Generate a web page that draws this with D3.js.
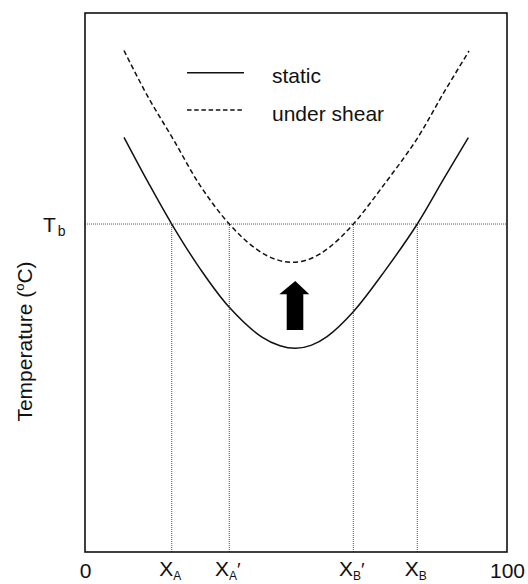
<!DOCTYPE html>
<html>
<head>
<meta charset="utf-8">
<script src="https://cdn.jsdelivr.net/npm/d3@7"></script>
<style>
  html, body { margin: 0; padding: 0; background: #fff; }
  svg { display: block; font-family: "Liberation Sans", Arial, Helvetica, sans-serif; }
</style>
</head>
<body>
<svg id="chart" width="528" height="584"></svg>
<script>
// Composition (0–100) and temperature (arbitrary units) of the two coexistence curves
const staticX = [9.24, 14.93, 20.55, 27.25, 34.19, 41.94, 46.21, 49.93, 53.55, 57.35, 63.58, 71.09, 78.74, 84.83, 90.83];
const staticT = [76.94, 68.63, 60.85, 52.58, 45.40, 39.85, 38.26, 37.79, 38.33, 39.96, 44.58, 52.21, 60.85, 68.98, 76.86];

const shearX = [9.24, 14.93, 20.92, 27.25, 34.19, 40.28, 45.02, 49.29, 53.55, 58.06, 63.58, 71.09, 78.60, 84.83, 91.00];
const shearT = [93.04, 84.43, 76.57, 68.03, 60.85, 56.38, 54.34, 53.75, 54.45, 56.62, 60.85, 68.40, 76.57, 84.97, 92.95];

// Temperature T_b and the compositions where each curve crosses it
const tempB = 60.85;
const markerNames = ["A", "A", "B", "B"];
const markerPrimes = [false, true, true, false];
const markerX = [20.55, 34.19, 63.58, 78.74];

// End labels of the composition axis
const axisEnds = [0, 100];

const legendLabels = ["static", "under shear"];

const svg = d3.select("#chart");
const margin = { left: 85, right: 21, top: 13, bottom: 32 };
const W = 528, H = 584;

const x = d3.scaleLinear().domain([0, 100]).range([margin.left, W - margin.right]);
const y = d3.scaleLinear().domain([0, 100]).range([H - margin.bottom, margin.top]);

const ink = "#111";
const dotted = "#555";

// Dotted guide lines: T_b across the plot, compositions down to the axis
svg.append("line")
  .attr("x1", x(0)).attr("x2", x(100))
  .attr("y1", y(tempB)).attr("y2", y(tempB))
  .attr("stroke", dotted).attr("stroke-width", 1).attr("stroke-dasharray", "1,1");

svg.selectAll("line.marker")
  .data(markerX)
  .join("line")
  .attr("class", "marker")
  .attr("x1", d => x(d)).attr("x2", d => x(d))
  .attr("y1", y(0)).attr("y2", y(tempB))
  .attr("stroke", dotted).attr("stroke-width", 1).attr("stroke-dasharray", "1,1");

// Curves
const line = d3.line()
  .x(d => x(d[0]))
  .y(d => y(d[1]))
  .curve(d3.curveCatmullRom.alpha(0.5));

svg.append("path")
  .attr("d", line(d3.zip(staticX, staticT)))
  .attr("fill", "none").attr("stroke", ink).attr("stroke-width", 1.5);

svg.append("path")
  .attr("d", line(d3.zip(shearX, shearT)))
  .attr("fill", "none").attr("stroke", ink).attr("stroke-width", 1.5)
  .attr("stroke-dasharray", "5,3");

// Upward arrow showing the shift of the curve under shear
const arrow = [
  [49.83, 50.28], [53.15, 47.81], [51.73, 47.81], [51.73, 41.19],
  [47.80, 41.19], [47.80, 47.81], [46.04, 47.81]
];
svg.append("polygon")
  .attr("points", arrow.map(p => [x(p[0]), y(p[1])].join(",")).join(" "))
  .attr("fill", "#000");

// Frame
svg.append("rect")
  .attr("x", x(0)).attr("y", y(100))
  .attr("width", x(100) - x(0)).attr("height", y(0) - y(100))
  .attr("fill", "none").attr("stroke", ink).attr("stroke-width", 1.6);

// Bottom axis labels
const tickVals = axisEnds.concat(markerX);
const xAxis = d3.axisBottom(x)
  .tickValues(tickVals)
  .tickSize(0)
  .tickPadding(11)
  .tickFormat(d => axisEnds.includes(d) ? String(d) : "");

const gx = svg.append("g")
  .attr("transform", `translate(0,${y(0)})`)
  .call(xAxis);
gx.select(".domain").remove();
gx.selectAll("text")
  .attr("font-size", 21)
  .attr("font-family", "Liberation Sans, Arial, sans-serif")
  .attr("fill", ink)
  .each(function (d) {
    const i = markerX.indexOf(d);
    if (i < 0) return;
    const t = d3.select(this).text(null).attr("dx", -2).attr("dy", "0.62em");
    t.append("tspan").text("X");
    t.append("tspan").text(markerNames[i])
      .attr("font-size", 12).attr("dy", 4);
    if (markerPrimes[i]) {
      t.append("tspan").text("\u2032").attr("font-size", 19).attr("dy", -4);
    }
  });

// T_b label
const tb = svg.append("text")
  .attr("x", 43).attr("y", y(tempB) + 8)
  .attr("font-size", 21).attr("fill", ink);
tb.append("tspan").text("T");
tb.append("tspan").text("b").attr("font-size", 14).attr("dx", 2).attr("dy", 4);

// Y axis title
const yt = svg.append("text")
  .attr("transform", `translate(32,${(y(0) + y(100)) / 2 + 59}) rotate(-90)`)
  .attr("text-anchor", "middle")
  .attr("font-size", 21).attr("fill", ink);
yt.append("tspan").text("Temperature (");
yt.append("tspan").text("o").attr("font-size", 13).attr("dy", -8);
yt.append("tspan").text("C)").attr("dy", 8);

// Legend
const legend = svg.append("g");
const legendY = [72.7, 110];
legend.selectAll("line")
  .data(legendLabels)
  .join("line")
  .attr("x1", 187).attr("x2", 244)
  .attr("y1", (d, i) => legendY[i]).attr("y2", (d, i) => legendY[i])
  .attr("stroke", ink).attr("stroke-width", 1.5)
  .attr("stroke-dasharray", (d, i) => i === 0 ? null : "4.5,2.7");
legend.selectAll("text")
  .data(legendLabels)
  .join("text")
  .attr("x", 272)
  .attr("y", (d, i) => legendY[i] + 10.5)
  .attr("font-size", 21).attr("fill", ink)
  .text(d => d);
</script>
</body>
</html>
